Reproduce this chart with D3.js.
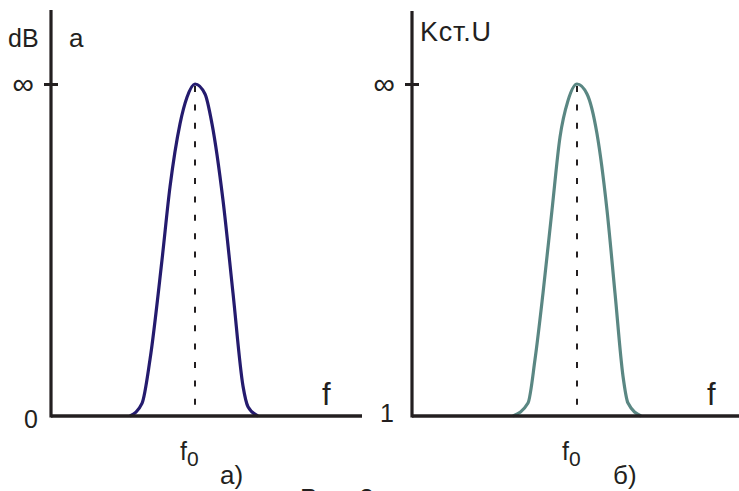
<!DOCTYPE html>
<html>
<head>
<meta charset="utf-8">
<script src="https://cdn.jsdelivr.net/npm/d3@7"></script>
<style>
  body { margin: 0; background: #fff; }
  svg text { font-family: "Liberation Sans", Arial, sans-serif; fill: #231f20; }
</style>
</head>
<body>
<svg id="chart" width="739" height="491"></svg>
<script>
// offsets from f0 (arbitrary freq units) and relative level (0 = base, 1 = ∞)
const leftOffsets = [-65, -53, -45, -33, -25, -15, -8, 0, 10, 17, 28, 38, 48, 53, 63];
const leftLevels = [0, 0.038, 0.17, 0.47, 0.69, 0.88, 0.96, 1, 0.97, 0.88, 0.65, 0.37, 0.09, 0.028, 0];
const rightOffsets = [-64, -49, -42, -34, -25, -17, -9, 0, 10, 20, 30, 38, 46, 51, 64];
const rightLevels = [0, 0.039, 0.17, 0.37, 0.62, 0.84, 0.95, 1, 0.97, 0.85, 0.62, 0.37, 0.12, 0.039, 0];

const yTopLabels = ['dB', 'Kст.U'];
const baseLabels = ['0', '1'];
const peakLabel = '∞';
const captions = ['а)', 'б)'];

const panels = [
    {offsets: leftOffsets, levels: leftLevels, domain: [-144, 167], range: [51, 362], top: 10,
     color: '#241b6e', yLabel: yTopLabels[0], base: baseLabels[0], caption: captions[0],
     baseDx: -13, baseDy: 3, capX: 220, extra: 'a'},
    {offsets: rightOffsets, levels: rightLevels, domain: [-165, 162], range: [412, 739], top: 11,
     color: '#5a8783', yLabel: yTopLabels[1], base: baseLabels[1], caption: captions[1],
     baseDx: -18, baseDy: -3, capX: 613, extra: null}
];

const svg = d3.select('#chart');

const y = d3.scaleLinear()
    .domain([0, 1])
    .range([416, 84]);

panels.forEach((p, i) => {
    let x = d3.scaleLinear().domain(p.domain).range(p.range);
    let g = svg.append('g');
    let x0 = p.range[0];

    // dashed line at f0
    g.append('line')
        .attr('x1', x(0)).attr('x2', x(0))
        .attr('y1', y(1) + 2).attr('y2', y(0))
        .attr('stroke', '#231f20')
        .attr('stroke-width', 2)
        .attr('stroke-dasharray', '6,12.4');

    // curve
    let pts = p.offsets.map((o, k) => [o, p.levels[k]]);
    let line = d3.line()
        .x(d => x(d[0]))
        .y(d => y(d[1]))
        .curve(d3.curveMonotoneX);
    g.append('path')
        .datum(pts)
        .attr('d', line)
        .attr('fill', 'none')
        .attr('stroke', p.color)
        .attr('stroke-width', 3.2);

    // axes
    g.append('line')
        .attr('x1', x0).attr('x2', x0)
        .attr('y1', p.top).attr('y2', y(0) + 1.5)
        .attr('stroke', '#231f20').attr('stroke-width', 3.2);
    g.append('line')
        .attr('x1', x0).attr('x2', p.range[1])
        .attr('y1', y(0)).attr('y2', y(0))
        .attr('stroke', '#231f20').attr('stroke-width', 3.5);

    let yAxis = g.append('g')
        .attr('transform', `translate(${x0},0)`)
        .call(d3.axisLeft(y).tickValues([1]).tickFormat(() => peakLabel).tickSize(7));
    yAxis.select('.domain').remove();
    yAxis.selectAll('.tick line').attr('x1', 7).attr('stroke', '#231f20').attr('stroke-width', 3);
    yAxis.selectAll('.tick text')
        .attr('x', -17)
        .attr('dy', '0.3em')
        .style('font-size', '30px')
        .style('font-family', '"Liberation Sans", Arial, sans-serif')
        .attr('fill', '#231f20');

    g.append('text')
        .attr('x', x0 + p.baseDx)
        .attr('y', y(0) + p.baseDy)
        .attr('dy', '0.35em')
        .attr('text-anchor', 'end')
        .style('font-size', '25px')
        .text(p.base);

    // top label
    if (i === 0) {
        g.append('text').attr('x', 8).attr('y', 47).style('font-size', '25px').text(p.yLabel);
        g.append('text').attr('x', 69).attr('y', 47).style('font-size', '26px').text(p.extra);
    } else {
        g.append('text').attr('x', x0 + 8).attr('y', 41).style('font-size', '27px')
            .attr('textLength', 71).text(p.yLabel);
    }

    // f label on axis
    g.append('text')
        .attr('x', x(0) + (i === 0 ? 127 : 130))
        .attr('y', 405)
        .style('font-size', '31px')
        .text('f');

    // f0 label
    let f0 = g.append('text')
        .attr('x', x(0) - 15)
        .attr('y', 460)
        .style('font-size', '25px');
    f0.append('tspan').text('f');
    f0.append('tspan').attr('dy', 6).style('font-size', '21px').text('0');

    // caption
    g.append('text')
        .attr('x', p.capX)
        .attr('y', 484)
        .style('font-size', '26px')
        .text(p.caption);
});

// figure caption, cut off at the bottom of the picture
svg.append('text')
    .attr('x', 300)
    .attr('y', 507)
    .style('font-size', '26px')
    .text('Рис. 2');
</script>
</body>
</html>
